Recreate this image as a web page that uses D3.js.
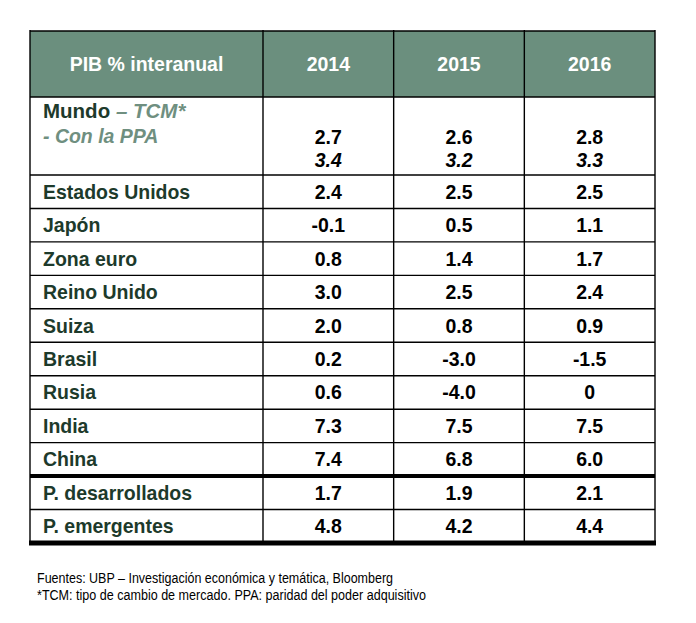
<!doctype html>
<html>
<head>
<meta charset="utf-8">
<style>
    body { margin: 0; background: #fff; }
    text { font-family: "Liberation Sans", Arial, sans-serif; }
</style>
<script src="https://d3js.org/d3.v7.min.js"></script>
</head>
<body>
<svg width="696" height="623"></svg>
<script>
    // data
    var years = ["2014", "2015", "2016"];
    var mundoTCM = [2.7, 2.6, 2.8];
    var mundoPPA = [3.4, 3.2, 3.3];
    var countries = ["Estados Unidos", "Japón", "Zona euro", "Reino Unido", "Suiza",
        "Brasil", "Rusia", "India", "China", "P. desarrollados", "P. emergentes"];
    var v2014 = [2.4, -0.1, 0.8, 3.0, 2.0, 0.2, 0.6, 7.3, 7.4, 1.7, 4.8];
    var v2015 = [2.5, 0.5, 1.4, 2.5, 0.8, -3.0, -4.0, 7.5, 6.8, 1.9, 4.2];
    var v2016 = [2.5, 1.1, 1.7, 2.4, 0.9, -1.5, 0, 7.5, 6.0, 2.1, 4.4];
    var footnotes = ["Fuentes: UBP – Investigación económica y temática, Bloomberg",
        "*TCM: tipo de cambio de mercado. PPA: paridad del poder adquisitivo"];

    var svg = d3.select("svg");

    var tLeft = 30, labelRight = 263, tRight = 655;
    var tTop = 31, headBottom = 97, mundoBottom = 175, tBottom = 543;

    var x = d3.scaleBand().domain(years).range([labelRight, tRight]);
    var y = d3.scaleBand().domain(countries).range([mundoBottom, tBottom]);

    var headerGreen = "#6b8f7e", labelColor = "#1d3a2b", italicColor = "#6f8f80";
    var fs = "20.5px";

    function fmt(v) {
        return v === 0 ? "0" : d3.format(".1f")(v).replace("−", "-");
    }

    // header background
    svg.append("rect")
        .attr("x", tLeft).attr("y", tTop)
        .attr("width", tRight - tLeft).attr("height", headBottom - tTop)
        .attr("fill", headerGreen);

    svg.append("text")
        .attr("class", "t")
        .attr("x", (tLeft + labelRight) / 2).attr("y", (tTop + headBottom) / 2 + 7)
        .attr("text-anchor", "middle")
        .attr("font-size", fs).attr("font-weight", "bold")
        .attr("fill", "#fff")
        .text("PIB % interanual");

    svg.selectAll(".yr")
        .data(years)
        .enter().append("text")
        .attr("class", "yr t")
        .attr("x", function(d) { return x(d) + x.bandwidth() / 2; })
        .attr("y", (tTop + headBottom) / 2 + 7)
        .attr("text-anchor", "middle")
        .attr("font-size", fs).attr("font-weight", "bold")
        .attr("fill", "#fff")
        .text(function(d) { return d; });

    // Mundo row
    var mundo = svg.append("text")
        .attr("x", 43).attr("y", 118)
        .attr("font-size", fs).attr("font-weight", "bold")
        .attr("fill", labelColor);
    mundo.append("tspan").text("Mundo ");
    mundo.append("tspan").attr("fill", italicColor).attr("font-style", "italic").text("– TCM*");

    svg.append("text")
        .attr("class", "t")
        .attr("x", 43).attr("y", 143)
        .attr("font-size", fs).attr("font-weight", "bold")
        .attr("font-style", "italic")
        .attr("fill", italicColor)
        .text("- Con la PPA");

    svg.selectAll(".tcm")
        .data(mundoTCM)
        .enter().append("text")
        .attr("class", "tcm t")
        .attr("x", function(d, i) { return x(years[i]) + x.bandwidth() / 2; })
        .attr("y", 144)
        .attr("text-anchor", "middle")
        .attr("font-size", fs).attr("font-weight", "bold")
        .attr("fill", "#000")
        .text(fmt);

    svg.selectAll(".ppa")
        .data(mundoPPA)
        .enter().append("text")
        .attr("class", "ppa t")
        .attr("x", function(d, i) { return x(years[i]) + x.bandwidth() / 2; })
        .attr("y", 167)
        .attr("text-anchor", "middle")
        .attr("font-size", fs).attr("font-weight", "bold")
        .attr("font-style", "italic")
        .attr("fill", "#000")
        .text(fmt);

    // country rows
    svg.selectAll(".lbl")
        .data(countries)
        .enter().append("text")
        .attr("class", "lbl t")
        .attr("x", 43)
        .attr("y", function(d) { return y(d) + y.bandwidth() / 2 + 7; })
        .attr("font-size", fs).attr("font-weight", "bold")
        .attr("fill", labelColor)
        .text(function(d) { return d; });

    [v2014, v2015, v2016].forEach(function(vals, j) {
        svg.selectAll(".v" + j)
            .data(vals)
            .enter().append("text")
            .attr("class", "v" + j + " t")
            .attr("x", x(years[j]) + x.bandwidth() / 2)
            .attr("y", function(d, i) { return y(countries[i]) + y.bandwidth() / 2 + 7; })
            .attr("text-anchor", "middle")
            .attr("font-size", fs).attr("font-weight", "bold")
            .attr("fill", "#000")
            .text(fmt);
    });

    // the original font is a little narrower than Liberation Sans
    svg.selectAll("text.t").each(function() {
        var w = this.getComputedTextLength();
        d3.select(this).attr("textLength", w * 0.95).attr("lengthAdjust", "spacingAndGlyphs");
    });

    // grid lines
    var hLines = [tTop, headBottom].concat(countries.map(function(d) { return y(d); }));
    svg.selectAll(".hl")
        .data(hLines)
        .enter().append("line")
        .attr("class", "hl")
        .attr("x1", tLeft).attr("x2", tRight)
        .attr("y1", function(d) { return d; }).attr("y2", function(d) { return d; })
        .attr("stroke", "#000").attr("stroke-width", 1.4);

    // thick line before P. desarrollados and at the bottom
    svg.append("line")
        .attr("x1", tLeft).attr("x2", tRight)
        .attr("y1", y("P. desarrollados")).attr("y2", y("P. desarrollados"))
        .attr("stroke", "#000").attr("stroke-width", 4);
    svg.append("line")
        .attr("x1", tLeft - 1).attr("x2", tRight + 1)
        .attr("y1", tBottom).attr("y2", tBottom)
        .attr("stroke", "#000").attr("stroke-width", 5);

    var vLines = [tLeft, labelRight].concat(years.map(function(d) { return x(d) + x.bandwidth(); }));
    svg.selectAll(".vl")
        .data(vLines)
        .enter().append("line")
        .attr("class", "vl")
        .attr("x1", function(d) { return d; }).attr("x2", function(d) { return d; })
        .attr("y1", tTop - 1).attr("y2", tBottom)
        .attr("stroke", "#000").attr("stroke-width", 1.4);

    // footnotes
    svg.selectAll(".fn")
        .data(footnotes)
        .enter().append("text")
        .attr("class", "fn")
        .attr("x", 37)
        .attr("y", function(d, i) { return 583 + i * 17; })
        .attr("font-size", "15.5px")
        .attr("fill", "#000")
        .attr("textLength", function(d, i) { return i === 0 ? 356 : 389; })
        .attr("lengthAdjust", "spacingAndGlyphs")
        .text(function(d) { return d; });
</script>
</body>
</html>
